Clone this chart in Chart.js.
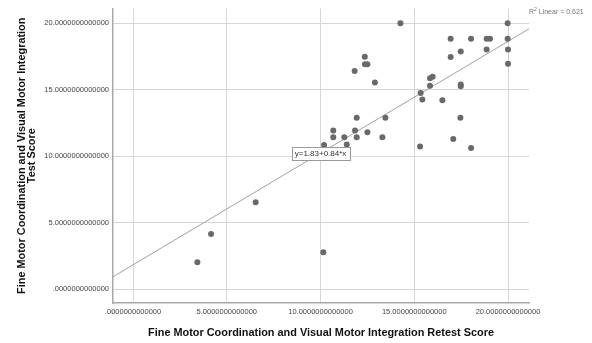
<!DOCTYPE html>
<html>
<head>
<meta charset="utf-8">
<script src="https://cdn.jsdelivr.net/npm/chart.js@4/dist/chart.umd.min.js"></script>
<style>
  html, body { margin: 0; padding: 0; background: #ffffff; }
  #wrap { width: 592px; height: 343px; }
</style>
</head>
<body>
<div id="wrap"><canvas id="chart" width="592" height="343"></canvas></div>
<script>
// Retest score (x) and test score (y) per child
const retestScores = [
  14.26, 19.98, 16.94, 18.03, 18.86, 19.04, 19.98, 20.0, 18.86, 17.48,
  16.94, 12.36, 12.37, 12.5, 20.0, 11.82, 12.9, 15.84, 15.98, 15.84,
  17.48, 17.48, 15.34, 15.43, 16.5, 11.93, 13.46, 17.46, 10.68, 11.84,
  12.5, 10.68, 11.27, 11.93, 13.3, 17.08, 10.19, 11.4, 15.31, 18.03,
  10.15, 3.43, 4.16, 6.54
];
const testScores = [
  20.0, 20.0, 18.83, 18.83, 18.83, 18.83, 18.83, 18.01, 18.01, 17.87,
  17.45, 17.47, 16.9, 16.9, 16.95, 16.41, 15.54, 15.86, 15.96, 15.29,
  15.39, 15.26, 14.74, 14.25, 14.2, 12.88, 12.88, 12.88, 11.92, 11.92,
  11.8, 11.43, 11.43, 11.43, 11.43, 11.28, 10.83, 10.88, 10.73, 10.61,
  2.77, 2.03, 4.14, 6.54
];
const tickValues = [0, 5, 10, 15, 20];
const tickLabels = ['.0000000000000', '5.0000000000000', '10.0000000000000', '15.0000000000000', '20.0000000000000'];

// Linear fit reported with the plot
const fitIntercept = 1.83;
const fitSlope = 0.84;
const rSquared = 0.621;

const X_MIN = -1.07, X_MAX = 21.12;
const Y_MIN = -1.04, Y_MAX = 21.1;

const points = retestScores.map((x, i) => ({ x: x, y: testScores[i] }));
const fitLine = [X_MIN, X_MAX].map(x => ({ x: x, y: fitIntercept + fitSlope * x }));

const keepTicks = scale => {
  scale.ticks = tickValues.map(v => ({ value: v }));
};
const tickText = v => {
  const i = tickValues.indexOf(v);
  return i >= 0 ? tickLabels[i] : '';
};

const annotations = {
  id: 'fitAnnotations',
  afterDatasetsDraw(chart) {
    const ctx = chart.ctx;
    const xs = chart.scales.x, ys = chart.scales.y;
    // Equation box on the fit line at x = 10
    const eq = 'y=' + fitIntercept.toFixed(2) + '+' + fitSlope.toFixed(2) + '*x';
    const cx = xs.getPixelForValue(10);
    const cy = ys.getPixelForValue(fitIntercept + fitSlope * 10);
    ctx.save();
    ctx.font = '8px "Liberation Sans", Arial, sans-serif';
    const w = ctx.measureText(eq).width + 6;
    const h = 13;
    ctx.fillStyle = '#ffffff';
    ctx.fillRect(Math.round(cx - w / 2) + 0.5, Math.round(cy - h / 2) + 0.5, Math.round(w), h);
    ctx.strokeStyle = '#9a9a9a';
    ctx.lineWidth = 1;
    ctx.strokeRect(Math.round(cx - w / 2) + 0.5, Math.round(cy - h / 2) + 0.5, Math.round(w), h);
    ctx.fillStyle = '#333333';
    ctx.textAlign = 'center';
    ctx.textBaseline = 'middle';
    ctx.fillText(eq, cx, cy + 1);

    // R-squared note at the top right
    ctx.fillStyle = '#777777';
    ctx.textAlign = 'left';
    ctx.textBaseline = 'middle';
    let tx = 529, ty = 12.5;
    ctx.font = '7px "Liberation Sans", Arial, sans-serif';
    ctx.fillText('R', tx, ty);
    tx += ctx.measureText('R').width;
    ctx.font = '5px "Liberation Sans", Arial, sans-serif';
    ctx.fillText('2', tx, ty - 2.5);
    tx += ctx.measureText('2').width;
    ctx.font = '7px "Liberation Sans", Arial, sans-serif';
    ctx.fillText(' Linear = ' + rSquared.toFixed(3), tx, ty);
    ctx.restore();
  }
};

new Chart(document.getElementById('chart'), {
  type: 'scatter',
  data: {
    datasets: [
      {
        type: 'line',
        data: fitLine,
        borderColor: '#a0a0a0',
        borderWidth: 1,
        pointRadius: 0,
        fill: false,
        order: 2
      },
      {
        data: points,
        backgroundColor: '#696969',
        borderColor: '#696969',
        borderWidth: 0,
        pointRadius: 3,
        order: 1
      }
    ]
  },
  options: {
    responsive: false,
    animation: false,
    devicePixelRatio: 1,
    layout: { padding: { top: 5, right: 63, bottom: 0, left: 0 } },
    plugins: { legend: { display: false }, tooltip: { enabled: false } },
    scales: {
      x: {
        type: 'linear',
        min: X_MIN,
        max: X_MAX,
        afterBuildTicks: keepTicks,
        afterFit: s => { s.height = 40; },
        grid: { color: '#d6d6d6', lineWidth: 1, drawTicks: false },
        border: { color: '#a8a8a8', width: 1.5 },
        ticks: {
          callback: tickText,
          maxRotation: 0,
          autoSkip: false,
          padding: 4,
          color: '#444444',
          font: { family: '"Liberation Sans", Arial, sans-serif', size: 7.5 }
        },
        title: {
          display: true,
          text: 'Fine Motor Coordination and Visual Motor Integration Retest Score',
          color: '#111111',
          padding: { top: 0, bottom: 3.5 },
          font: { family: '"Liberation Sans", Arial, sans-serif', size: 10.9, weight: 'bold' }
        }
      },
      y: {
        type: 'linear',
        min: Y_MIN,
        max: Y_MAX,
        afterBuildTicks: keepTicks,
        afterFit: s => { s.width = 113; },
        grid: { color: '#d6d6d6', lineWidth: 1, drawTicks: false },
        border: { color: '#a8a8a8', width: 1.5 },
        ticks: {
          callback: tickText,
          autoSkip: false,
          padding: 4,
          color: '#444444',
          font: { family: '"Liberation Sans", Arial, sans-serif', size: 7.5 }
        },
        title: {
          display: true,
          text: ['Fine Motor Coordination and Visual Motor Integration', 'Test Score'],
          color: '#111111',
          padding: { top: 17.5, bottom: 0 },
          font: { family: '"Liberation Sans", Arial, sans-serif', size: 10.9, weight: 'bold', lineHeight: 0.9 }
        }
      }
    }
  },
  plugins: [annotations]
});
</script>
</body>
</html>
